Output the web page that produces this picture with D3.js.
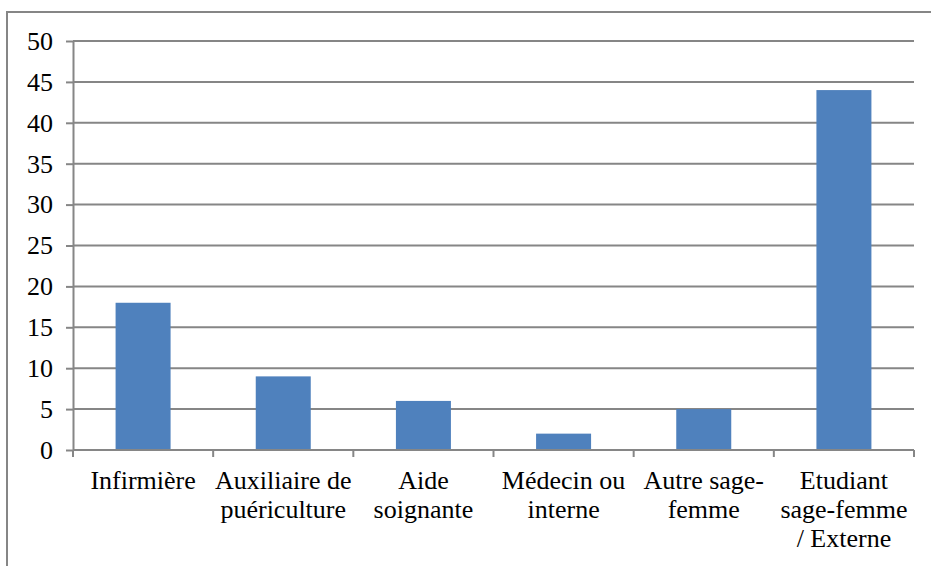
<!DOCTYPE html>
<html>
<head>
<meta charset="UTF-8">
<title>Effectifs par fonction</title>
<script src="https://cdn.jsdelivr.net/npm/d3@7/dist/d3.min.js"></script>
<style>
    body { margin: 0; background: #fff; }
    .grid line { stroke: #868686; stroke-width: 2px; }
    .axis path, .axis line { stroke: #868686; stroke-width: 2px; }
    .bar { fill: #4f81bd; }
</style>
</head>
<body>
<svg id="chart" width="931" height="566" style="display:block"></svg>
<script>
// categories (line breaks as in the original labels)
var categories = [
    "Infirmière",
    "Auxiliaire de\npuériculture",
    "Aide\nsoignante",
    "Médecin ou\ninterne",
    "Autre sage-\nfemme",
    "Etudiant\nsage-femme\n/ Externe"
];
var values = [18, 9, 6, 2, 5, 44];
var yTicks = [0, 5, 10, 15, 20, 25, 30, 35, 40, 45, 50];

var FONT = "Liberation Serif";

var W = 931, H = 566;
var margin = { top: 41, left: 73, right: 17, bottom: 116 };
var width = W - margin.left - margin.right,
    height = H - margin.top - margin.bottom;

var svg = d3.select("#chart");

// outer frame (runs off the right and bottom edges like the original)
svg.append("rect")
    .attr("x", 7).attr("y", 12)
    .attr("width", W + 10).attr("height", H + 10)
    .attr("fill", "none")
    .attr("stroke", "#868686")
    .attr("stroke-width", 2);

var g = svg.append("g")
    .attr("transform", "translate(" + margin.left + "," + margin.top + ")");

var x = d3.scaleBand().domain(categories).range([0, width]).paddingInner(0).paddingOuter(0);
var y = d3.scaleLinear().domain([0, 50]).range([height, 0]);

// gridlines
g.append("g").attr("class", "grid")
    .selectAll("line").data(yTicks.filter(function(d) { return d > 0; }))
    .enter().append("line")
    .attr("x1", 0).attr("x2", width)
    .attr("y1", function(d) { return y(d); })
    .attr("y2", function(d) { return y(d); });

// bars
var barW = 55;
g.selectAll("rect.bar").data(values)
    .enter().append("rect")
    .attr("class", "bar")
    .attr("x", function(d, i) { return x(categories[i]) + (x.bandwidth() - barW) / 2; })
    .attr("y", function(d) { return y(d); })
    .attr("width", barW)
    .attr("height", function(d) { return y(0) - y(d); });

// y axis: tick marks from d3, labels as plain text
g.append("g").attr("class", "axis")
    .call(d3.axisLeft(y).tickValues(yTicks).tickSize(7).tickSizeOuter(0).tickFormat(""));

g.append("g").selectAll("text").data(yTicks)
    .enter().append("text")
    .attr("x", -20)
    .attr("y", function(d) { return y(d); })
    .attr("dy", "0.34em")
    .attr("text-anchor", "end")
    .attr("font-family", FONT)
    .attr("font-size", 26)
    .attr("fill", "#000")
    .text(function(d) { return d; });

// x axis: ticks on category boundaries
var xAxis = g.append("g").attr("class", "axis")
    .attr("transform", "translate(0," + height + ")");
xAxis.append("line")
    .attr("x1", 0).attr("x2", width).attr("y1", 0).attr("y2", 0);
xAxis.selectAll("line.tick").data(categories.concat([null]))
    .enter().append("line")
    .attr("class", "tick")
    .attr("x1", function(d, i) { return i * x.step(); })
    .attr("x2", function(d, i) { return i * x.step(); })
    .attr("y1", 0).attr("y2", 7);

// category labels, one text per line
categories.forEach(function(c) {
    var cx = x(c) + x.bandwidth() / 2;
    c.split("\n").forEach(function(line, i) {
        g.append("text")
            .attr("x", cx)
            .attr("y", height + 39 + i * 29)
            .attr("text-anchor", "middle")
            .attr("font-family", FONT)
            .attr("font-size", 26)
            .attr("fill", "#000")
            .text(line);
    });
});
</script>
</body>
</html>
